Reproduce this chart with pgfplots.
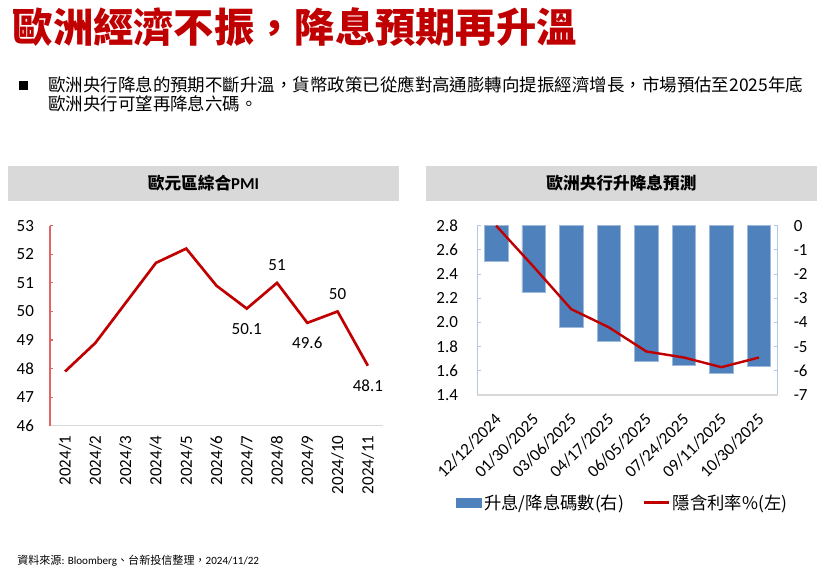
\documentclass[border=0pt]{standalone}
\usepackage{pgfplots}
\pgfplotsset{compat=1.18}
\usepackage{fontspec}
\setmainfont{Carlito}
\newfontfamily\cjk{Noto Sans CJK TC}
\definecolor{dred}{HTML}{C00000}
\definecolor{bblue}{HTML}{4F81BD}
\definecolor{hdr}{HTML}{D9D9D9}
\definecolor{axblue}{HTML}{B4C7E7}
\definecolor{axred}{HTML}{E06666}
\definecolor{axgray}{HTML}{D9D9D9}
\begin{document}
\begin{tikzpicture}
\path[use as bounding box] (0pt,0pt) rectangle (619.5pt,427.5pt);
% title
\node[anchor=west, inner sep=0pt, text=dred, font=\fontsize{30.2}{34}\selectfont\cjk\bfseries] at (9.5pt,407pt) {歐洲經濟不振，降息預期再升溫};
% bullet
\fill (14.2pt,360pt) rectangle (21.2pt,367pt);
\node[anchor=west, inner sep=0pt, font=\fontsize{13.1}{15}\selectfont\cjk] at (36pt,363.75pt) {歐洲央行降息的預期不斷升溫，貨幣政策已從應對高通膨轉向提振經濟增長，市場預估至2025年底};
\node[anchor=west, inner sep=0pt, font=\fontsize{13.1}{15}\selectfont\cjk] at (36pt,350pt) {歐洲央行可望再降息六碼。};
% headers
\fill[hdr] (6pt,276.75pt) rectangle (299.25pt,303pt);
\fill[hdr] (319.5pt,276.75pt) rectangle (612.75pt,303pt);
\node[font=\fontsize{12.5}{14}\selectfont\bfseries] at (152.6pt,289.9pt) {{\cjk\bfseries 歐元區綜合}PMI};
\node[font=\fontsize{12.5}{14}\selectfont\cjk\bfseries] at (466.1pt,289.9pt) {歐洲央行升降息預測};
% source
\node[anchor=west, inner sep=0pt, font=\fontsize{8.3}{10}\selectfont] at (12.75pt,7pt) {{\cjk 資料來源}: Bloomberg{\cjk 、台新投信整理，}2024/11/22};

% ---------- left chart ----------
\begin{axis}[
  at={(37.5pt,108.2pt)}, anchor=south west,
  scale only axis, width=249.75pt, height=150pt,
  xmin=0.5, xmax=11.5, ymin=46, ymax=53,
  axis x line*=bottom, axis y line*=left,
  x axis line style={axgray, line width=0.8pt},
  y axis line style={axred, line width=0.8pt},
  xtick={1,...,11},
  xticklabels={2024/1,2024/2,2024/3,2024/4,2024/5,2024/6,2024/7,2024/8,2024/9,2024/10,2024/11},
  ytick={46,...,53},
  xtick style={draw=none},
  ytick style={axred, line width=0.8pt},
  tick align=inside, major tick length=2.5pt,
  ticklabel style={font=\fontsize{12.75}{14}\selectfont},
  yticklabel style={xshift=-8.5pt},
  xticklabel style={yshift=-4pt, rotate=90, anchor=east},
  /pgf/number format/assume math mode=true,
  clip=false,
]
\addplot[dred, line width=2pt] coordinates {
(1,47.9) (2,48.9) (3,50.3) (4,51.7) (5,52.2) (6,50.9) (7,50.1) (8,51) (9,49.6) (10,50) (11,48.1)};
\addplot[draw=none, nodes near coords,
  every node near coord/.append style={anchor=center, yshift=-15pt, font=\fontsize{12.75}{14}\selectfont}]
  coordinates {(7,50.1) (9,49.6) (11,48.1)};
\addplot[draw=none, nodes near coords,
  every node near coord/.append style={anchor=center, yshift=13.3pt, font=\fontsize{12.75}{14}\selectfont}]
  coordinates {(8,51) (10,50)};
\end{axis}

% ---------- right chart: bars (right axis) ----------
\begin{axis}[
  at={(358pt,131.25pt)}, anchor=south west,
  scale only axis, width=225.3pt, height=127pt,
  xmin=-0.5, xmax=7.5, ymin=-7, ymax=0,
  axis y line*=right, axis x line=none,
  y axis line style={axblue, line width=0.8pt},
  ytick={-7,...,0},
  ytick style={axblue, line width=0.8pt},
  tick align=inside, major tick length=3pt,
  ticklabel style={font=\fontsize{12.75}{14}\selectfont},
  yticklabel style={xshift=8.5pt},
  /pgf/number format/assume math mode=true,
  xtick=\empty,
]
\addplot[ybar, bar width=17.6pt, fill=bblue, draw=bblue!55!white, line width=0.4pt] coordinates {
(0,-1.46) (1,-2.75) (2,-4.22) (3,-4.79) (4,-5.59) (5,-5.79) (6,-6.12) (7,-5.82)};
\end{axis}

% ---------- right chart: line (left axis) ----------
\begin{axis}[
  at={(358pt,131.25pt)}, anchor=south west,
  scale only axis, width=225.3pt, height=127pt,
  xmin=-0.5, xmax=7.5, ymin=1.4, ymax=2.8,
  axis y line*=left, axis x line*=bottom,
  x axis line style={axgray, line width=0.8pt},
  y axis line style={axblue, line width=0.8pt},
  ytick={1.4,1.6,1.8,2.0,2.2,2.4,2.6,2.8},
  xtick={0,...,7},
  xticklabels={12/12/2024,01/30/2025,03/06/2025,04/17/2025,06/05/2025,07/24/2025,09/11/2025,10/30/2025},
  xtick style={draw=none},
  ytick style={axblue, line width=0.8pt},
  tick align=inside, major tick length=3pt,
  ticklabel style={font=\fontsize{12.75}{14}\selectfont},
  yticklabel style={xshift=-11pt, /pgf/number format/fixed, /pgf/number format/fixed zerofill, /pgf/number format/precision=1},
  xticklabel style={xshift=4pt, yshift=-14pt, rotate=45, anchor=east},
  /pgf/number format/assume math mode=true,
  legend style={at={(0.485,-0.636)}, anchor=center, draw=none, fill=none,
    legend columns=2, font=\fontsize{13}{15}\selectfont\cjk,
    /tikz/every even column/.append style={column sep=12pt}},
  clip=false,
]
\addlegendimage{legend image code/.code={\fill[bblue] (0pt,-3.5pt) rectangle (18.75pt,3.5pt);}}
\addplot[dred, line width=1.8pt, legend image code/.code={\draw[dred, line width=1.8pt] (0pt,0pt) -- (18.75pt,0pt);}] coordinates {
(0,2.80) (1,2.46) (2,2.11) (3,1.96) (4,1.76) (5,1.71) (6,1.63) (7,1.71)};
\legend{升息/降息碼數(右),隱含利率\%(左)}
\end{axis}
\end{tikzpicture}
\end{document}
